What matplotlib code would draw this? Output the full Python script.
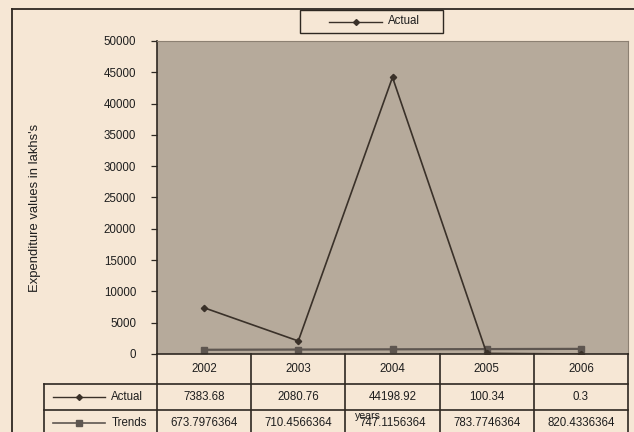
import matplotlib.pyplot as plt
from matplotlib.lines import Line2D
from matplotlib.patches import Rectangle

years = ["2002", "2003", "2004", "2005", "2006"]
actual = [7383.68, 2080.76, 44198.92, 100.34, 0.3]
trends = [673.7976364, 710.4566364, 747.1156364, 783.7746364, 820.4336364]
actual_labels = ["7383.68", "2080.76", "44198.92", "100.34", "0.3"]
trend_labels = ["673.7976364", "710.4566364", "747.1156364", "783.7746364", "820.4336364"]
y_ticks = list(range(0, 50001, 5000))

W, H = 634, 432
PAGE = "#f6e7d5"
PANEL = "#b6aa9b"
INK = "#2e2822"
TEXT = "#1e1e1e"
ACTUAL_C = "#3a3129"
TREND_C = "#5e5650"

plt.rcParams["font.family"] = ["Liberation Sans", "DejaVu Sans"]


def fx(px):
    return px / W


def fy(py):
    return 1 - py / H


fig = plt.figure(figsize=(W / 100, H / 100), dpi=100, facecolor=PAGE)

# plot area, columns of the data table line up with the category slots
left, right, top, bottom = 157, 628, 41, 354
ax = fig.add_axes([fx(left), fy(bottom), fx(right - left), (bottom - top) / H])
ax.set_facecolor(PANEL)
x = list(range(len(years)))
ax.plot(x, actual, color=ACTUAL_C, lw=1.2, marker="D", ms=3.2, zorder=3)
ax.plot(x, trends, color=TREND_C, lw=1.6, marker="s", ms=4.5, zorder=2)
ax.set_xlim(-0.5, len(years) - 0.5)
ax.set_ylim(0, 50000)
ax.set_yticks(y_ticks)
ax.set_yticklabels([str(v) for v in y_ticks])
ax.set_xticks([])
ax.tick_params(axis="y", direction="out", length=4, width=0.9, color=INK,
               labelsize=8.3, pad=11, labelcolor=TEXT)
for side in ("top", "right"):
    ax.spines[side].set_color("#8c8072")
    ax.spines[side].set_linewidth(0.8)
for side in ("left", "bottom"):
    ax.spines[side].set_color(INK)
    ax.spines[side].set_linewidth(1.2)

fig.text(fx(35), fy(208), "Expenditure values in lakhs's", rotation=90,
         ha="center", va="center", fontsize=9.4, color=TEXT)


def hline(y, x0, x1, lw=1.2, color=INK):
    fig.add_artist(Line2D([fx(x0), fx(x1)], [fy(y), fy(y)], color=color, lw=lw))


def vline(xp, y0, y1, lw=1.2):
    fig.add_artist(Line2D([fx(xp), fx(xp)], [fy(y0), fy(y1)], color=INK, lw=lw))


def key(x0, x1, y, color, marker, ms, lw):
    hline(y, x0, x1, lw=lw, color=color)
    fig.add_artist(Line2D([fx((x0 + x1) / 2)], [fy(y)], color=color, marker=marker, ms=ms))


# page frame
hline(9, 12, W + 5, lw=1.3)
vline(12, 9, H + 5, lw=1.3)

# legend box above the panel (only the actual series)
fig.add_artist(Rectangle((fx(300), fy(33)), fx(143), 23 / H, facecolor=PAGE,
                         edgecolor=INK, lw=1.0, transform=fig.transFigure))
key(329, 382, 21.5, ACTUAL_C, "D", 3, 1.0)
fig.text(fx(388), fy(21), "Actual", ha="left", va="center", fontsize=8.3, color=TEXT)

# data table under the plot
col_w = (right - left) / len(years)
for i in range(len(years) + 1):
    vline(left + i * col_w, bottom, H + 5)
vline(44, 384, H + 5)
hline(384, 44, right)
hline(410, 44, right)

cell = dict(ha="center", va="center", fontsize=8.3, color=TEXT)
for i, (yr, a, t) in enumerate(zip(years, actual_labels, trend_labels)):
    cx = fx(left + (i + 0.5) * col_w)
    fig.text(cx, fy(369), yr, **cell)
    fig.text(cx, fy(397.5), a, **cell)
    fig.text(cx, fy(423), t, **cell)

# series keys in the row headers
key(53, 105, 397, ACTUAL_C, "D", 3, 1.0)
key(53, 105, 423, TREND_C, "s", 4.5, 1.2)
fig.text(fx(111), fy(396.5), "Actual", ha="left", va="center", fontsize=8.3, color=TEXT)
fig.text(fx(112), fy(423), "Trends", ha="left", va="center", fontsize=8.3, color=TEXT)

fig.text(fx(368), fy(416), "years", ha="center", va="center", fontsize=7.6, color=TEXT)

fig.savefig("out.png", dpi=100, facecolor=PAGE)
